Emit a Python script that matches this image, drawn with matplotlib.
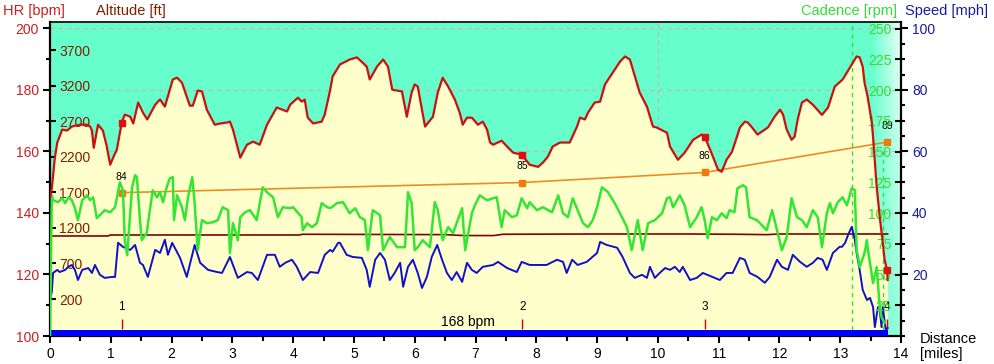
import numpy as np
import matplotlib
matplotlib.use("Agg")
import matplotlib.pyplot as plt
from matplotlib.ticker import MultipleLocator, FixedLocator

plt.rcParams['font.family'] = ['Liberation Sans', 'DejaVu Sans']

# heart rate trace: (distance [miles], bpm)
hr_points = [
    (0.00, 145.0), (0.03, 148.0), (0.08, 158.0), (0.12, 162.9), (0.20, 167.1), (0.28, 166.8),
    (0.36, 168.1), (0.49, 168.7), (0.61, 168.7), (0.66, 168.1), (0.69, 166.8), (0.72, 161.2),
    (0.79, 168.7), (0.87, 166.8), (0.93, 162.0), (0.99, 155.7), (1.05, 158.5), (1.10, 160.6),
    (1.18, 169.4), (1.23, 172.0), (1.32, 171.3), (1.37, 169.1), (1.45, 175.9), (1.53, 172.6),
    (1.60, 170.4), (1.73, 175.2), (1.81, 176.9), (1.89, 174.6), (2.02, 183.4), (2.09, 184.0),
    (2.17, 182.4), (2.30, 174.9), (2.35, 174.9), (2.43, 179.8), (2.50, 179.5), (2.58, 173.6),
    (2.71, 168.7), (2.80, 169.1), (2.91, 169.4), (2.96, 169.7), (3.01, 167.1), (3.13, 158.0),
    (3.24, 162.2), (3.34, 163.2), (3.45, 162.2), (3.57, 168.7), (3.73, 174.3), (3.90, 173.0),
    (3.95, 175.2), (4.08, 177.5), (4.14, 176.2), (4.19, 176.9), (4.24, 171.0), (4.33, 169.1),
    (4.47, 169.7), (4.52, 172.0), (4.61, 180.1), (4.65, 184.4), (4.77, 188.3), (4.93, 189.9),
    (5.05, 190.6), (5.21, 187.6), (5.26, 183.4), (5.38, 187.6), (5.48, 189.9), (5.56, 187.6),
    (5.63, 180.1), (5.79, 179.5), (5.87, 171.3), (5.95, 179.2), (6.00, 181.8), (6.05, 181.1),
    (6.17, 168.1), (6.30, 171.3), (6.38, 179.2), (6.46, 184.0), (6.55, 181.1), (6.66, 176.9),
    (6.74, 172.6), (6.79, 168.7), (6.86, 171.0), (6.94, 171.0), (7.04, 168.7), (7.12, 169.7),
    (7.19, 167.1), (7.24, 162.9), (7.29, 162.2), (7.43, 163.5), (7.52, 161.6), (7.62, 159.6),
    (7.76, 159.0), (7.89, 155.7), (8.03, 155.0), (8.11, 156.4), (8.19, 158.3), (8.27, 161.6),
    (8.39, 162.9), (8.55, 162.9), (8.67, 168.1), (8.72, 171.0), (8.80, 170.4), (8.85, 172.6),
    (8.96, 175.9), (9.05, 176.2), (9.13, 181.8), (9.26, 185.7), (9.38, 189.3), (9.46, 190.9),
    (9.54, 189.9), (9.59, 186.6), (9.70, 179.2), (9.82, 174.6), (9.92, 168.1), (9.98, 167.8),
    (10.15, 166.1), (10.20, 161.6), (10.33, 157.3), (10.44, 159.6), (10.58, 163.8), (10.72, 165.5),
    (10.77, 164.8), (10.86, 160.6), (10.99, 154.1), (11.05, 153.4), (11.13, 157.3), (11.22, 159.9),
    (11.35, 167.8), (11.43, 169.7), (11.48, 169.4), (11.55, 167.8), (11.64, 165.5), (11.81, 167.8),
    (11.92, 171.3), (12.01, 173.6), (12.06, 172.0), (12.12, 167.1), (12.20, 163.8), (12.25, 164.8),
    (12.30, 170.4), (12.37, 175.9), (12.45, 176.9), (12.55, 175.2), (12.70, 171.9), (12.80, 174.3),
    (12.91, 181.1), (13.04, 183.4), (13.19, 188.3), (13.27, 190.9), (13.32, 190.6), (13.37, 187.6),
    (13.40, 182.4), (13.45, 177.9), (13.52, 169.4), (13.54, 164.8), (13.60, 148.5), (13.65, 138.8),
    (13.70, 130.3), (13.73, 124.8), (13.77, 121.5), (13.78, 118.2),
]

# speed trace: (distance [miles], mph)
speed_points = [
    (0.00, 12.0), (0.03, 14.3), (0.05, 20.5), (0.12, 21.5), (0.16, 20.8), (0.25, 21.5), (0.30, 22.5),
    (0.36, 23.1), (0.41, 21.5), (0.46, 18.2), (0.53, 21.5), (0.63, 22.1), (0.69, 20.5), (0.74, 23.1),
    (0.82, 19.9), (0.90, 18.9), (1.02, 19.2), (1.07, 19.2), (1.12, 30.3), (1.20, 29.0), (1.32, 28.0),
    (1.40, 29.6), (1.48, 23.8), (1.53, 23.1), (1.61, 19.2), (1.73, 28.0), (1.81, 27.0), (1.89, 31.3),
    (1.94, 26.4), (2.01, 30.3), (2.14, 25.4), (2.25, 19.2), (2.38, 29.6), (2.47, 23.8), (2.60, 21.5),
    (2.75, 20.8), (2.83, 20.5), (2.96, 25.7), (3.09, 18.9), (3.24, 20.8), (3.32, 20.5), (3.42, 18.2),
    (3.57, 26.4), (3.70, 26.4), (3.78, 22.5), (3.87, 23.8), (3.98, 24.8), (4.06, 22.5), (4.16, 18.2),
    (4.28, 20.8), (4.41, 20.5), (4.52, 26.4), (4.61, 28.0), (4.65, 27.4), (4.74, 30.3), (4.77, 30.3),
    (4.88, 26.4), (4.98, 25.7), (5.13, 25.4), (5.21, 21.5), (5.26, 16.0), (5.35, 24.8), (5.43, 27.0),
    (5.51, 24.8), (5.59, 18.2), (5.67, 20.5), (5.76, 23.8), (5.81, 16.0), (5.89, 22.5), (5.97, 24.8),
    (6.05, 20.5), (6.12, 15.6), (6.20, 19.2), (6.28, 25.7), (6.37, 29.6), (6.45, 24.8), (6.53, 20.5),
    (6.61, 18.2), (6.69, 20.8), (6.78, 17.6), (6.86, 23.8), (6.94, 21.5), (7.02, 20.5), (7.12, 22.5),
    (7.29, 23.1), (7.37, 24.1), (7.52, 22.1), (7.68, 20.8), (7.76, 24.1), (7.89, 23.1), (8.17, 23.1),
    (8.34, 24.8), (8.44, 24.1), (8.50, 20.5), (8.59, 24.8), (8.68, 23.1), (8.83, 24.1), (9.00, 27.0),
    (9.05, 30.6), (9.16, 29.6), (9.33, 28.7), (9.42, 25.7), (9.54, 20.5), (9.62, 18.9), (9.74, 19.9),
    (9.82, 18.9), (9.87, 22.5), (9.95, 18.9), (10.03, 20.5), (10.12, 22.1), (10.20, 21.5), (10.28, 22.5),
    (10.36, 20.8), (10.41, 22.5), (10.53, 18.2), (10.64, 18.9), (10.74, 20.5), (10.90, 19.2), (11.02, 18.2),
    (11.13, 20.5), (11.23, 20.5), (11.35, 25.4), (11.43, 24.8), (11.51, 20.5), (11.64, 19.2), (11.76, 17.3),
    (11.84, 19.2), (11.96, 24.8), (12.04, 22.5), (12.14, 21.5), (12.22, 26.4), (12.34, 24.1), (12.45, 22.5),
    (12.55, 23.8), (12.63, 25.4), (12.71, 24.8), (12.78, 21.5), (12.88, 27.0), (12.99, 29.0), (13.03, 29.0),
    (13.08, 30.3), (13.13, 32.9), (13.19, 35.5), (13.24, 31.3), (13.27, 27.0), (13.32, 21.5), (13.37, 15.0),
    (13.44, 11.7), (13.49, 12.4), (13.54, 9.4), (13.57, 2.9), (13.62, 9.4), (13.65, 8.5), (13.68, 2.9),
    (13.70, 9.4), (13.75, 2.0), (13.78, 2.6),
]

# cadence trace: (distance [miles], rpm)
cadence_points = [
    (0.00, 0.0), (0.03, 114.4), (0.05, 110.4), (0.13, 108.8), (0.20, 112.0), (0.25, 108.0), (0.30, 112.8),
    (0.36, 110.4), (0.41, 103.9), (0.46, 94.2), (0.53, 110.4), (0.61, 114.4), (0.66, 110.4), (0.71, 112.8),
    (0.77, 95.8), (0.82, 98.2), (0.90, 102.3), (0.99, 100.6), (1.07, 104.7), (1.15, 125.0), (1.20, 118.5),
    (1.23, 77.9), (1.27, 65.7), (1.35, 120.9), (1.40, 130.7), (1.43, 129.1), (1.48, 94.2), (1.51, 77.9),
    (1.59, 83.6), (1.69, 118.5), (1.76, 112.8), (1.81, 116.9), (1.86, 108.8), (1.92, 120.9), (1.97, 128.2),
    (2.02, 129.1), (2.04, 94.2), (2.09, 114.4), (2.17, 104.7), (2.22, 94.2), (2.27, 112.8), (2.34, 129.1),
    (2.38, 108.0), (2.43, 69.8), (2.50, 94.2), (2.58, 91.7), (2.68, 92.5), (2.76, 94.2), (2.84, 104.7),
    (2.93, 102.3), (2.96, 67.4), (3.01, 91.7), (3.09, 77.9), (3.13, 96.6), (3.21, 100.6), (3.29, 102.3),
    (3.40, 94.2), (3.50, 120.9), (3.57, 116.9), (3.67, 112.8), (3.75, 96.6), (3.83, 104.7), (3.95, 103.9),
    (4.00, 104.7), (4.14, 96.6), (4.16, 86.0), (4.23, 91.7), (4.31, 88.5), (4.39, 91.7), (4.47, 108.0),
    (4.56, 104.7), (4.61, 103.9), (4.72, 108.0), (4.82, 108.8), (4.93, 99.8), (5.02, 103.9), (5.10, 96.6),
    (5.18, 94.2), (5.23, 69.8), (5.31, 102.3), (5.43, 98.2), (5.48, 69.8), (5.59, 80.4), (5.71, 72.2),
    (5.84, 72.2), (5.89, 116.9), (5.95, 108.0), (6.00, 69.8), (6.05, 72.2), (6.13, 77.9), (6.25, 72.2),
    (6.33, 108.8), (6.38, 102.3), (6.46, 77.9), (6.55, 88.5), (6.63, 83.6), (6.78, 103.9), (6.83, 69.8),
    (6.94, 99.8), (6.99, 106.3), (7.07, 114.4), (7.19, 110.4), (7.29, 112.0), (7.35, 112.8), (7.43, 88.5),
    (7.48, 102.3), (7.60, 96.6), (7.68, 98.2), (7.76, 112.0), (7.85, 103.9), (7.89, 108.8), (8.01, 102.3),
    (8.11, 104.7), (8.26, 100.6), (8.36, 114.4), (8.44, 99.8), (8.52, 96.6), (8.60, 112.0), (8.68, 102.3),
    (8.77, 91.7), (8.85, 88.5), (8.93, 94.2), (9.00, 104.7), (9.08, 120.9), (9.18, 116.9), (9.29, 108.0),
    (9.41, 96.6), (9.49, 88.5), (9.57, 69.8), (9.67, 94.2), (9.75, 69.8), (9.84, 91.7), (9.95, 94.2),
    (10.07, 99.8), (10.15, 112.0), (10.20, 112.8), (10.25, 104.7), (10.36, 114.4), (10.44, 106.3),
    (10.53, 88.5), (10.64, 96.6), (10.72, 104.7), (10.77, 94.2), (10.82, 79.5), (10.89, 96.6), (10.97, 94.2),
    (11.05, 99.8), (11.13, 95.8), (11.18, 102.3), (11.26, 100.6), (11.31, 120.1), (11.40, 122.6),
    (11.45, 120.9), (11.51, 96.6), (11.63, 94.2), (11.68, 91.7), (11.79, 86.0), (11.88, 102.3), (11.96, 86.0),
    (12.04, 69.8), (12.12, 80.4), (12.20, 112.0), (12.29, 96.6), (12.37, 94.2), (12.45, 88.5), (12.55, 102.3),
    (12.63, 96.6), (12.70, 72.2), (12.78, 99.8), (12.83, 108.0), (12.88, 99.8), (12.96, 108.8), (13.04, 112.8),
    (13.11, 106.3), (13.19, 120.1), (13.24, 118.5), (13.27, 69.8), (13.30, 62.5), (13.32, 56.0), (13.40, 67.4),
    (13.44, 77.9), (13.45, 72.2), (13.54, 43.0), (13.60, 56.0), (13.62, 43.0), (13.65, 23.5), (13.68, 15.4),
    (13.73, 10.6),
]

# altitude trace: (distance [miles], ft)
altitude_points = [
    (0.0, 1086), (0.95, 1086), (1.0, 1100), (2.5, 1100), (4.1, 1100), (4.15, 1110), (6.5, 1105),
    (6.8, 1092), (7.3, 1092), (7.45, 1110), (9.0, 1114), (10.5, 1114), (11.3, 1110), (11.8, 1105),
    (12.0, 1114), (13.0, 1114), (13.78, 1114),
]

# laps
lap_dist = [1.18, 7.77, 10.77, 13.77]
lap_names = ['1', '2', '3', '4']
lap_temp = [84, 85, 86, 89]          # temperature per lap [F]
marker_dist = [13.19, 13.70]         # dashed markers
zone_end = 13.78
zone_label = '168 bpm'

hr_d, hr_v = np.array(hr_points).T
sp_d, sp_v = np.array(speed_points).T
cd_d, cd_v = np.array(cadence_points).T
al_d, al_v = np.array(altitude_points).T

AQUA = '#66FFCC'
YELLOW = '#FFFFCC'
C_HR = '#CC2020'
C_ALT = '#7F1F00'
C_CAD = '#33DD33'
C_SPD = '#1A1AA0'

fig = plt.figure(figsize=(9.94, 3.64), dpi=100)
ax = fig.add_axes([50 / 994, 28 / 364, 851 / 994, 314 / 364])
ax.set_facecolor(AQUA)
ax.set_xlim(0, 14)
ax.set_ylim(100, 202.1)

# fade at the end of the record
nx, ny = 60, 60
tx = np.linspace(0, 1, nx)[None, :]
ty = np.linspace(1, 0, ny)[:, None]
w = np.clip(tx * (0.35 + 0.65 * ty), 0, 1) * 0.9
aq = np.array(matplotlib.colors.to_rgb(AQUA))
grad = aq[None, None, :] * (1 - w[..., None]) + w[..., None]
ax.imshow(grad, extent=[13.5, 14, 100, 202.1], origin='upper', aspect='auto', zorder=0.6)
ax.set_xlim(0, 14)
ax.set_ylim(100, 202.1)

# grid behind the fill
for g in [200, 180, 160, 140, 120]:
    ax.axhline(g, color='#BBBBBB', lw=1, ls=(0, (3, 3)), zorder=0.8)
ax.axvline(10, color='#BBBBBB', lw=1, ls=(0, (3, 3)), zorder=0.8)

ax.fill_between(hr_d, 100, hr_v, color=YELLOW, lw=0, zorder=1)

# zone bar
ax.fill_between([0, zone_end], 100, 102.0, color='#0000FF', lw=0, zorder=3)
ax.text(6.88, 104.6, zone_label, ha='center', va='center', fontsize=10, color='black', zorder=4)

# lap marks
for d, n in zip(lap_dist, lap_names):
    ax.vlines(d, 102.3, 105.6, color='#DD0000', lw=1, zorder=4)
    ax.text(d, 109.3, n, ha='center', va='center', fontsize=8.5, color='black', zorder=4)

for d in marker_dist:
    top = 202.1 if d == marker_dist[0] else 160
    ax.vlines(d, 102, top, color=C_CAD, lw=1, linestyles=(0, (3, 3)), zorder=2)

# axes styling
for s in ['left', 'bottom', 'right']:
    ax.spines[s].set_linewidth(1.6)
ax.spines['top'].set_linewidth(1.2)
ax.xaxis.set_major_locator(MultipleLocator(1))
ax.xaxis.set_minor_locator(MultipleLocator(0.5))
ax.tick_params(axis='x', which='major', length=5, width=1.5, labelsize=10, pad=3)
ax.tick_params(axis='x', which='minor', length=3.5, width=1.5)
ax.yaxis.set_major_locator(FixedLocator([100, 120, 140, 160, 180, 200]))
ax.yaxis.set_minor_locator(FixedLocator([110, 130, 150, 170, 190]))
ax.tick_params(axis='y', which='major', length=5, width=1.5, labelsize=10, labelcolor=C_HR, pad=3)
ax.tick_params(axis='y', which='minor', length=3, width=1.5)

# altitude axis (labels inside, left)
ax_alt = ax.twinx()
ax_alt.set_ylim(-320, 4094)
ax_alt.yaxis.tick_left()
ax_alt.yaxis.set_major_locator(FixedLocator([200, 700, 1200, 1700, 2200, 2700, 3200, 3700]))
ax_alt.tick_params(axis='y', direction='in', length=4, width=1.5, labelsize=10,
                   labelcolor=C_ALT, pad=-6.5)
plt.setp(ax_alt.get_yticklabels(), ha='left')
ax_alt.plot(al_d, al_v, color='#800000', lw=1.2)

# temperature (hidden scale)
ax_tmp = ax.twinx()
ax_tmp.set_ylim(69.8, 100.9)
ax_tmp.yaxis.set_visible(False)
ax_tmp.plot(lap_dist, lap_temp, color='#F08A24', lw=1.2)
ax_tmp.plot(lap_dist, lap_temp, ls='none', marker='s', ms=4.5, color='#F07A10')
for d, t in zip(lap_dist, lap_temp):
    ax_tmp.annotate(str(t), (d, t), xytext=(0, 8), textcoords='offset points',
                    ha='center', va='bottom', fontsize=7.5, color='black')

# speed axis (right, outside)
ax_spd = ax.twinx()
ax_spd.set_ylim(0, 102.1)
ax_spd.yaxis.set_major_locator(FixedLocator([20, 40, 60, 80, 100]))
ax_spd.yaxis.set_minor_locator(MultipleLocator(5))
ax_spd.tick_params(axis='y', which='major', length=5, width=1.5, labelsize=10, labelcolor=C_SPD, pad=3)
ax_spd.tick_params(axis='y', which='minor', length=3, width=1.5)
ax_spd.plot(sp_d, sp_v, color='#1010C8', lw=1.4)

# cadence axis (right, labels inside)
ax_cad = ax.twinx()
ax_cad.set_ylim(0, 255.3)
ax_cad.yaxis.set_major_locator(FixedLocator([25, 50, 75, 100, 125, 150, 175, 200, 225, 250]))
ax_cad.tick_params(axis='y', direction='in', length=4, width=1.5, labelsize=10,
                   labelcolor=C_CAD, pad=-7)
plt.setp(ax_cad.get_yticklabels(), ha='right')
ax_cad.plot(cd_d, cd_v, color='#33E633', lw=1.8)

# heart rate line on top
ax_hr = ax.twinx()
ax_hr.set_ylim(100, 202.1)
ax_hr.yaxis.set_visible(False)
ax_hr.plot(hr_d, hr_v, color='#CC1010', lw=1.6)
ax_hr.plot(lap_dist, np.interp(lap_dist, hr_d, hr_v), ls='none', marker='s', ms=4.5, color='#E01010')

for a in [ax_alt, ax_tmp, ax_spd, ax_cad, ax_hr]:
    a.set_xlim(0, 14)
    for s in a.spines.values():
        s.set_visible(False)

# axis titles
fig.text(3 / 994, 1 - 11 / 364, 'HR [bpm]', color=C_HR, fontsize=10.5, va='center', ha='left')
fig.text(96 / 994, 1 - 11 / 364, 'Altitude [ft]', color=C_ALT, fontsize=10.5, va='center', ha='left')
fig.text(897 / 994, 1 - 11 / 364, 'Cadence [rpm]', color=C_CAD, fontsize=10.5, va='center', ha='right')
fig.text(905 / 994, 1 - 11 / 364, 'Speed [mph]', color=C_SPD, fontsize=10.5, va='center', ha='left')
fig.text(920 / 994, 1 - 339 / 364, 'Distance', color='black', fontsize=10.5, va='center', ha='left')
fig.text(920 / 994, 1 - 354 / 364, '[miles]', color='black', fontsize=10.5, va='center', ha='left')

fig.savefig('out.png', dpi=100)
